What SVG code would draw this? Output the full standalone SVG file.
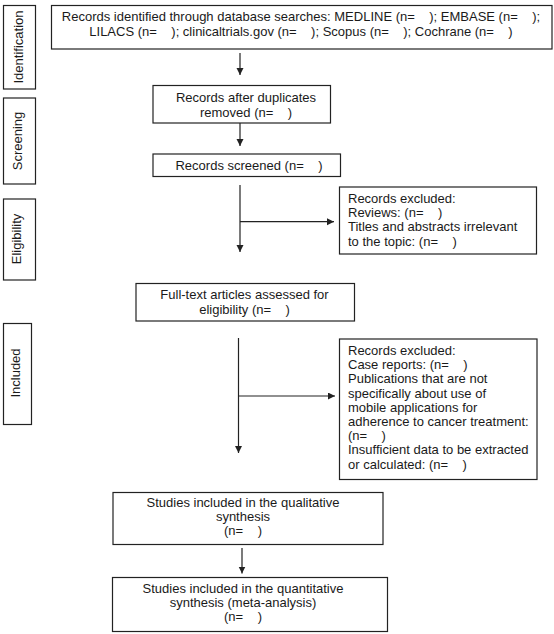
<svg xmlns="http://www.w3.org/2000/svg" width="554" height="634" viewBox="0 0 554 634">
<defs>
<style>
.box{fill:#fff;stroke:#222;stroke-width:1.2}
.t{font-family:"Liberation Sans",Arial,sans-serif;font-size:13px;fill:#1a1a1a;white-space:pre}
.c{text-anchor:middle}
.ln{stroke:#222;stroke-width:1.2;fill:none}
</style>
<marker id="ah" markerWidth="8" markerHeight="8" refX="7" refY="3.5" orient="auto" markerUnits="userSpaceOnUse">
<path d="M0,0 L7,3.5 L0,7 Z" fill="#222"/>
</marker>
</defs>
<rect width="554" height="634" fill="#fff"/>

<g id="stage-identification">
<rect class="box" x="3.5" y="5.5" width="32" height="83.5"/>
<text class="t c" transform="translate(23,47) rotate(-90)">Identification</text>
</g>
<g id="stage-screening">
<rect class="box" x="3.5" y="98" width="32" height="86"/>
<text class="t c" transform="translate(21.5,141) rotate(-90)">Screening</text>
</g>
<g id="stage-eligibility">
<rect class="box" x="3.5" y="199" width="32" height="81"/>
<text class="t c" transform="translate(20.5,239) rotate(-90)">Eligibility</text>
</g>
<g id="stage-included">
<rect class="box" x="3.5" y="323.5" width="28" height="101"/>
<text class="t c" transform="translate(20,373) rotate(-90)">Included</text>
</g>

<g id="identified">
<rect class="box" x="51.5" y="5.5" width="500.5" height="43.5"/>
<text class="t c" x="301" y="21" xml:space="preserve">Records identified through database searches: MEDLINE (n=    ); EMBASE (n=    );</text>
<text class="t c" x="301" y="36" xml:space="preserve">LILACS (n=    ); clinicaltrials.gov (n=    ); Scopus (n=    ); Cochrane (n=    )</text>
</g>

<g id="duplicates">
<rect class="box" x="153" y="85.5" width="177.5" height="37.5"/>
<text class="t c" x="246" y="101.5">Records after duplicates</text>
<text class="t c" x="246" y="116.5" xml:space="preserve">removed (n=    )</text>
</g>

<g id="screened">
<rect class="box" x="153" y="154" width="187.5" height="22.5"/>
<text class="t c" x="249" y="169.5" xml:space="preserve">Records screened (n=    )</text>
</g>

<g id="excluded1">
<rect class="box" x="339.5" y="187" width="197" height="67"/>
<text class="t" x="348" y="203">Records excluded:</text>
<text class="t" x="348" y="217.2" xml:space="preserve">Reviews: (n=    )</text>
<text class="t" x="348" y="231.4">Titles and abstracts irrelevant</text>
<text class="t" x="348" y="245.6" xml:space="preserve">to the topic: (n=    )</text>
</g>

<g id="fulltext">
<rect class="box" x="136" y="283.5" width="218.5" height="37.5"/>
<text class="t c" x="244.5" y="299">Full-text articles assessed for</text>
<text class="t c" x="244.5" y="313.5" xml:space="preserve">eligibility (n=    )</text>
</g>

<g id="excluded2">
<rect class="box" x="339.5" y="339" width="197.5" height="140.5"/>
<text class="t" x="348" y="355">Records excluded:</text>
<text class="t" x="348" y="369.2" xml:space="preserve">Case reports: (n=    )</text>
<text class="t" x="348" y="383.4">Publications that are not</text>
<text class="t" x="348" y="397.6">specifically about use of</text>
<text class="t" x="348" y="411.8">mobile applications for</text>
<text class="t" x="348" y="426">adherence to cancer treatment:</text>
<text class="t" x="348" y="440.2" xml:space="preserve">(n=    )</text>
<text class="t" x="348" y="454.4">Insufficient data to be extracted</text>
<text class="t" x="348" y="468.6" xml:space="preserve">or calculated: (n=    )</text>
</g>

<g id="qualitative">
<rect class="box" x="113" y="492.5" width="270" height="52"/>
<text class="t c" x="243" y="507">Studies included in the qualitative</text>
<text class="t c" x="243" y="521">synthesis</text>
<text class="t c" x="243" y="535" xml:space="preserve">(n=    )</text>
</g>

<g id="quantitative">
<rect class="box" x="112.5" y="577.5" width="275" height="54"/>
<text class="t c" x="243" y="592.5">Studies included in the quantitative</text>
<text class="t c" x="243" y="606.5">synthesis (meta-analysis)</text>
<text class="t c" x="243" y="621" xml:space="preserve">(n=    )</text>
</g>

<g id="connectors">
<line class="ln" x1="240" y1="53" x2="240" y2="75" marker-end="url(#ah)"/>
<line class="ln" x1="240" y1="123" x2="240" y2="146" marker-end="url(#ah)"/>
<line class="ln" x1="240" y1="185" x2="240" y2="252" marker-end="url(#ah)"/>
<line class="ln" x1="240" y1="221.7" x2="334" y2="221.7" marker-end="url(#ah)"/>
<line class="ln" x1="238.5" y1="338" x2="238.5" y2="453" marker-end="url(#ah)"/>
<line class="ln" x1="238.5" y1="396" x2="335" y2="396" marker-end="url(#ah)"/>
<line class="ln" x1="242" y1="548" x2="242" y2="573.5" marker-end="url(#ah)"/>
</g>
</svg>
